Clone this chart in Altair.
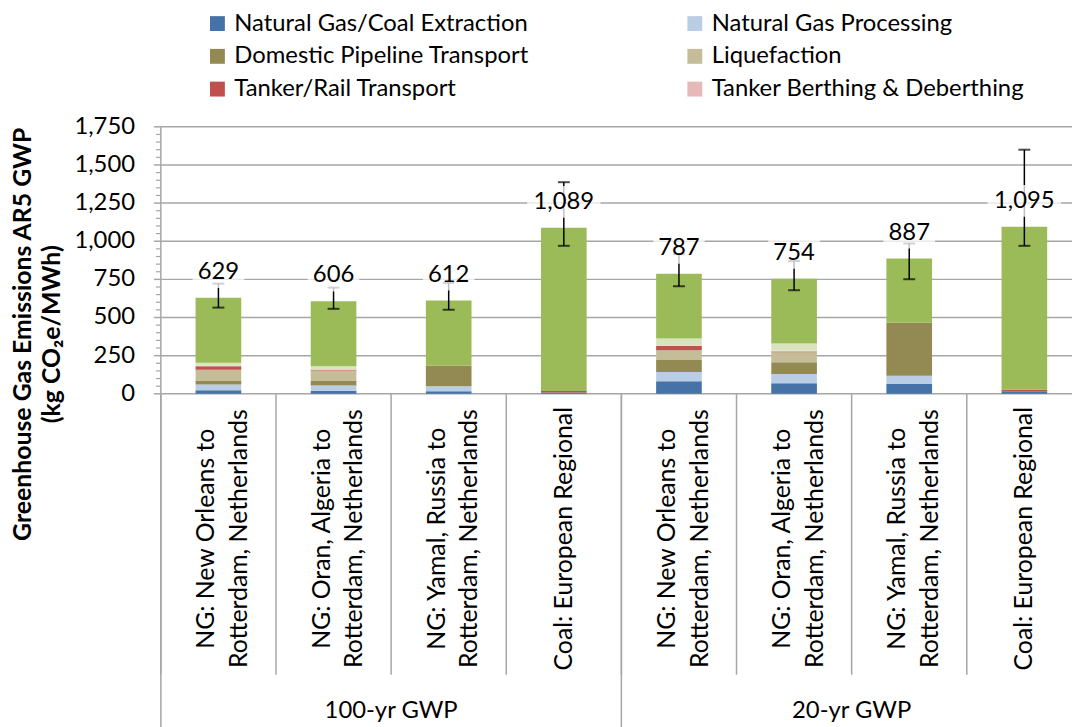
import altair as alt
import pandas as pd

FONT = "Lato"
FS = 24
GRID = "#a6a6a6"

groups = ["100-yr GWP", "20-yr GWP"]
cases = ["NG: New Orleans to\nRotterdam, Netherlands",
         "NG: Oran, Algeria to\nRotterdam, Netherlands",
         "NG: Yamal, Russia to\nRotterdam, Netherlands",
         "Coal: European Regional"]
keys = [f"{g}|{c}" for g in groups for c in cases]
cat_labels = [c for g in groups for c in cases]

series = ["Natural Gas/Coal Extraction", "Natural Gas Processing",
          "Domestic Pipeline Transport", "Liquefaction",
          "Tanker/Rail Transport", "Tanker Berthing & Deberthing",
          "LNG Regasification", "Power Plant Operations"]
colors = ["#4572A7", "#B9CDE5", "#938953", "#C4BD97",
          "#C0504D", "#E6B9B8", "#D7E4BD", "#9BBB59"]
# legend shows the first six series, laid out column by column
legend_order = [series[0], series[2], series[4], series[1], series[3], series[5]]

extraction   = [24, 20, 17, 8, 82, 69, 65, 13]
processing   = [37, 35, 33, 0, 61, 61, 54, 0]
pipeline     = [26, 33, 135, 0, 78, 76, 348, 0]
liquefaction = [70, 65, 0, 0, 65, 67, 0, 0]
tanker       = [24, 4, 0, 10, 28, 4, 0, 13]
berthing     = [3, 2, 0, 0, 2, 5, 0, 0]
regas        = [20, 22, 0, 0, 46, 48, 0, 0]
power        = [425, 425, 427, 1071, 425, 424, 420, 1069]

totals  = [629, 606, 612, 1089, 787, 754, 887, 1095]
err_lo  = [565, 557, 551, 970, 705, 679, 751, 970]
err_hi  = [722, 696, 727, 1387, 915, 870, 985, 1600]

y_ticks = [0, 250, 500, 750, 1000, 1250, 1500, 1750]
minor_ticks = [v for v in range(50, 1750, 50) if v % 250 != 0]
y_title = "Greenhouse Gas Emissions AR5 GWP\n(kg CO₂e/MWh)"

seg_lists = [extraction, processing, pipeline, liquefaction, tanker, berthing, regas, power]
rows = []
for si, (s, vals) in enumerate(zip(series, seg_lists)):
    for k, v in zip(keys, vals):
        rows.append({"key": k, "series": s, "value": v, "order": si})
df = pd.DataFrame(rows)

summ = pd.DataFrame({"key": keys, "total": totals, "lo": err_lo, "hi": err_hi,
                     "cat": cat_labels})
summ["long"] = summ["total"] >= 1000
summ["two"] = summ["cat"].str.contains("\n")

x_scale = alt.Scale(domain=keys, range=[0, 928], paddingInner=0, paddingOuter=0)
y_scale = alt.Scale(domain=[0, 1750], nice=False)

def xenc(**kw):
    return alt.X("key:N", scale=x_scale, sort=keys, axis=None, **kw)

def yenc(field):
    return alt.Y(field, scale=y_scale, axis=None)

ticks_df = pd.DataFrame({"v": y_ticks})

grid = alt.Chart(ticks_df).mark_rule(color=GRID, strokeWidth=1.5).encode(
    y=yenc("v:Q"), x=alt.value(0), x2=alt.value(928))
ydomain = alt.Chart(ticks_df).mark_rule(color=GRID, strokeWidth=1.5).encode(
    x=alt.value(0), y=yenc("min(v):Q"), y2="max(v):Q")
major = alt.Chart(ticks_df).mark_rule(color=GRID, strokeWidth=1.5).encode(
    y=yenc("v:Q"), x=alt.value(-7), x2=alt.value(0))
minor = alt.Chart(pd.DataFrame({"v": minor_ticks})).mark_rule(
    color=GRID, strokeWidth=1.2).encode(
    y=yenc("v:Q"), x=alt.value(-5), x2=alt.value(0))
ylabels = alt.Chart(ticks_df).mark_text(align="right", baseline="middle", font=FONT,
                                        fontSize=FS, color="black").encode(
    y=yenc("v:Q"), x=alt.value(-26), text=alt.Text("v:Q", format=","))
ytitle = alt.Chart(pd.DataFrame({"t": [y_title]})).mark_text(
    angle=270, align="center", baseline="middle", font=FONT, fontSize=25,
    fontWeight="bold", color="black", lineBreak="\n", lineHeight=29).encode(
    x=alt.value(-139), y=alt.value(209), text="t:N")

bars = alt.Chart(df).mark_bar(width=46).encode(
    x=xenc(),
    y=alt.Y("value:Q", stack="zero", scale=y_scale, axis=None),
    color=alt.Color("series:N", scale=alt.Scale(domain=series, range=colors),
                    legend=alt.Legend(title=None, orient="none", legendX=45, legendY=-116,
                                      columns=2, columnPadding=155, rowPadding=9,
                                      symbolType="square", symbolSize=225,
                                      symbolStrokeWidth=0, labelFont=FONT,
                                      labelFontSize=FS, labelColor="black",
                                      labelOffset=5, labelLimit=1000, padding=0,
                                      values=legend_order)),
    order=alt.Order("order:Q", sort="ascending"),
)

err = alt.Chart(summ).mark_rule(color="black", strokeWidth=1.5).encode(
    x=xenc(), y=yenc("lo:Q"), y2="hi:Q")
cap_lo = alt.Chart(summ).mark_tick(color="black", thickness=2, size=12).encode(
    x=xenc(), y=yenc("lo:Q"))
cap_hi = alt.Chart(summ).mark_tick(color="black", thickness=2, size=12).encode(
    x=xenc(), y=yenc("hi:Q"))

box_s = alt.Chart(summ).transform_filter("!datum.long").mark_bar(
    width=52, color="white", opacity=0.75, yOffset=-42, y2Offset=-10).encode(
    x=xenc(), y=yenc("total:Q"), y2="total:Q")
box_l = alt.Chart(summ).transform_filter("datum.long").mark_bar(
    width=74, color="white", opacity=0.75, yOffset=-42, y2Offset=-10).encode(
    x=xenc(), y=yenc("total:Q"), y2="total:Q")

labels = alt.Chart(summ).mark_text(dy=-26, baseline="middle", font=FONT,
                                   fontSize=FS, color="black").encode(
    x=xenc(), y=yenc("total:Q"), text=alt.Text("total:Q", format=","))

xlab2 = alt.Chart(summ).transform_filter("datum.two").mark_text(
    angle=270, align="center", baseline="middle", font=FONT, fontSize=25,
    color="black", lineBreak="\n", lineHeight=33, dy=-12).encode(
    x=xenc(), y=alt.value(415), text="cat:N")
xlab1 = alt.Chart(summ).transform_filter("!datum.two").mark_text(
    angle=270, align="center", baseline="middle", font=FONT, fontSize=25,
    color="black").encode(
    x=xenc(), y=alt.value(415), text="cat:N")

seps = alt.Chart(pd.DataFrame({"key": keys})).mark_rule(color=GRID, strokeWidth=1.5).encode(
    x=xenc(bandPosition=0), y=alt.value(269), y2=alt.value(552))
gseps = alt.Chart(pd.DataFrame({"key": [keys[0], keys[4]]})).mark_rule(
    color=GRID, strokeWidth=1.5).encode(
    x=xenc(bandPosition=0), y=alt.value(269), y2=alt.value(610))

glabels = alt.Chart(pd.DataFrame({"key": [keys[1], keys[5]], "label": groups})).mark_text(
    font=FONT, fontSize=FS, baseline="middle", color="black").encode(
    x=xenc(bandPosition=1), y=alt.value(589), text="label:N")

chart = alt.layer(grid, bars, ydomain, major, minor, ylabels, ytitle,
                  err, cap_lo, cap_hi, box_s, box_l, labels,
                  xlab2, xlab1, seps, gseps, glabels).properties(
    width=918, height=269,
    autosize=alt.AutoSizeParams(type="none"),
    padding={"left": 154, "top": 117, "right": 0, "bottom": 333},
).configure(font=FONT).configure_view(strokeWidth=0)

chart.save("out.html", embed_options={"renderer": "svg", "actions": False})
